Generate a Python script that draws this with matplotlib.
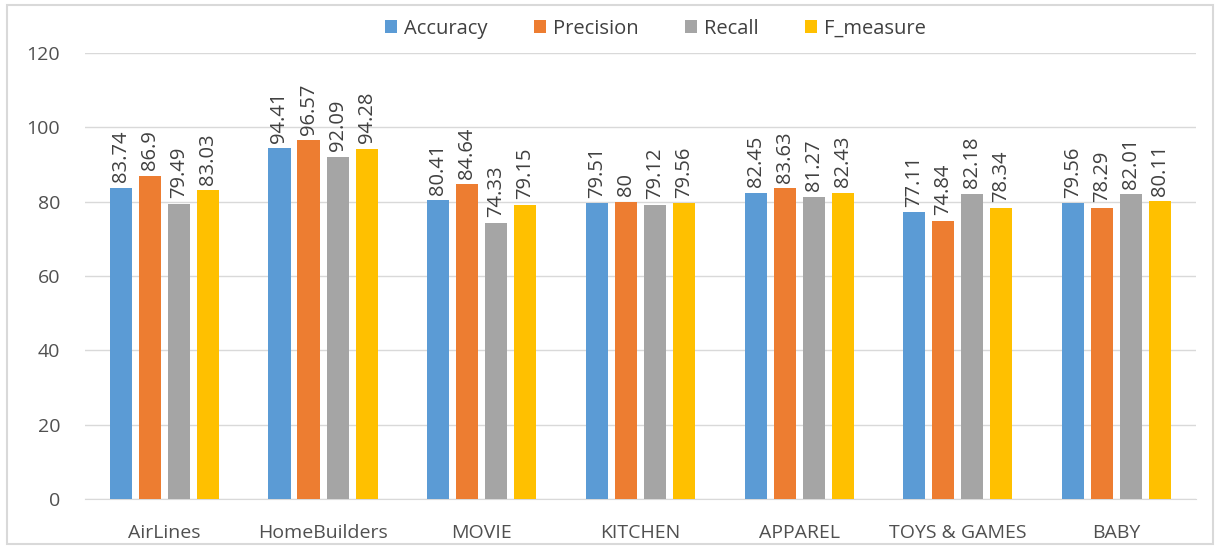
import matplotlib.pyplot as plt
import numpy as np

categories = ["AirLines", "HomeBuilders", "MOVIE", "KITCHEN", "APPAREL", "TOYS & GAMES", "BABY"]
series_names = ["Accuracy", "Precision", "Recall", "F_measure"]
accuracy = [83.74, 94.41, 80.41, 79.51, 82.45, 77.11, 79.56]
precision = [86.9, 96.57, 84.64, 80, 83.63, 74.84, 78.29]
recall = [79.49, 92.09, 74.33, 79.12, 81.27, 82.18, 82.01]
f_measure = [83.03, 94.28, 79.15, 79.56, 82.43, 78.34, 80.11]
yticks = [0, 20, 40, 60, 80, 100, 120]

colors = ["#5B9BD5", "#ED7D31", "#A5A5A5", "#FFC000"]
plt.rcParams["font.family"] = ["Open Sans", "DejaVu Sans"]

fig = plt.figure(figsize=(12.18, 5.46), dpi=100)
ax = fig.add_axes([0.0698, 0.086, 0.912, 0.817])

x = np.arange(len(categories))
width = 0.139
step = 0.183
all_series = [accuracy, precision, recall, f_measure]
for i, (name, vals, c) in enumerate(zip(series_names, all_series, colors)):
    pos = x + (i - 1.5) * step
    bars = ax.bar(pos, vals, width=width, color=c, label=name, zorder=3)
    for b, v in zip(bars, vals):
        ax.annotate(f"{v:g}", (b.get_x() + b.get_width() / 2, v),
                    xytext=(0, 4), textcoords="offset points",
                    rotation=90, ha="center", va="bottom",
                    fontsize=14.5, color="#404040")

ax.set_xlim(-0.5, len(categories) - 0.5)
ax.set_ylim(0, 120)
ax.set_yticks(yticks)
ax.set_xticks(x)
ax.set_xticklabels(categories)
ax.tick_params(axis="both", length=0, labelsize=14, colors="#505050")
ax.tick_params(axis="x", pad=18)
ax.tick_params(axis="y", pad=18)
ax.grid(axis="y", color="#D9D9D9", linewidth=1, zorder=0)
for s in ["top", "right", "left"]:
    ax.spines[s].set_visible(False)
ax.spines["bottom"].set_color("#D9D9D9")

leg = fig.legend(*ax.get_legend_handles_labels(), loc="center",
                 bbox_to_anchor=(0.538, 0.947), ncol=4, frameon=False,
                 fontsize=14.5, handlelength=0.6, handleheight=0.6, columnspacing=2.3,
                 handletextpad=0.35)
for t in leg.get_texts():
    t.set_color("#404040")

fig.patches.append(plt.Rectangle((0.006, 0.004), 0.99, 0.986, transform=fig.transFigure,
                                 fill=False, edgecolor="#D9D9D9", linewidth=1.5))

fig.savefig("out.png", dpi=100)
